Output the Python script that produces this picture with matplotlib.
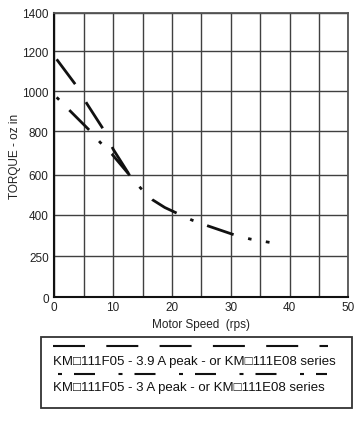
#Torque vs motor speed curves
import numpy as np
import matplotlib
matplotlib.use('Agg')
import matplotlib.pyplot as plt
from matplotlib.lines import Line2D
from matplotlib.patches import Rectangle

plt.rcParams['font.family'] = ['Liberation Sans', 'DejaVu Sans']
plt.rcParams['lines.scale_dashes'] = False

# torque axis is drawn with uneven steps, each tick gets its own grid row
torque_ticks = [0, 250, 400, 600, 800, 1000, 1200, 1400]
tick_rows = [0, 41, 82.8, 122.6, 166, 206, 246, 284.3]   # spacing of the rows on the sheet

speed_ticks = [0, 10, 20, 30, 40, 50]

# 3.9 A peak curve
speed_39 = [0.4, 3.7, 5.5, 8.5, 10.0, 12.8]
torque_39 = [1160, 1030, 940, 803, 718, 598]

# 3 A peak curve
speed_3 = [0.4, 2.55, 5.95, 7.8, 9.8, 12.8, 14.7, 16.7, 18.8, 20.9, 23.4, 26.0, 30.6, 33.3, 36.6]
torque_3 = [970, 906, 806, 749, 695, 598, 532, 474, 435, 406, 380, 360, 327, 312, 300]

labels = ['KM\u25a1111F05 - 3.9 A peak - or KM\u25a1111E08 series',
          'KM\u25a1111F05 - 3 A peak - or KM\u25a1111E08 series']


def fwd(v):
    return np.interp(v, torque_ticks, tick_rows)


def inv(p):
    return np.interp(p, tick_rows, torque_ticks)


W, H = 354, 439
fig = plt.figure(figsize=(W/100, H/100), dpi=100)
ax = fig.add_axes([54.3/W, 1-298.3/H, 294/W, 284.3/H])
ax.set_yscale('function', functions=(fwd, inv))

px = 72/100   # pixels -> points
ax.plot(speed_39, torque_39, color='#111111', lw=2.0,
        dash_capstyle='butt', dashes=(31*px, 21*px))
ax.plot(speed_3, torque_3, color='#111111', lw=2.0, dash_capstyle='butt',
        dashes=(3.5*px, 14.5*px, 28*px, 15*px))

ax.set_xlim(0, 50)
ax.set_ylim(0, 1400)
ax.set_xticks(speed_ticks)
ax.set_xticks(np.arange(5, 50, 10), minor=True)
ax.set_yticks(torque_ticks)
ax.set_yticklabels([str(t) for t in torque_ticks])
ax.yaxis.set_minor_locator(matplotlib.ticker.NullLocator())
ax.grid(which='both', color='#404040', lw=1.0)
ax.tick_params(which='both', length=0, labelsize=8.5, colors='#222222')
ax.tick_params(axis='x', pad=3)
ax.tick_params(axis='y', pad=4)
for s in ['left', 'bottom']:
    ax.spines[s].set_linewidth(1.5)
    ax.spines[s].set_color('#111111')
for s in ['top', 'right']:
    ax.spines[s].set_linewidth(1.3)
    ax.spines[s].set_color('#555555')

ax.set_xlabel('Motor Speed  (rps)', fontsize=8.5, labelpad=3, color='#222222')
ax.set_ylabel('TORQUE - oz in', fontsize=8.5, labelpad=1, color='#222222')

# legend box under the chart
fig.patches.append(Rectangle((41/W, 1-409/H), 311/W, 71.3/H, transform=fig.transFigure,
                             fill=False, lw=1.3, edgecolor='#333333'))
fig.lines.append(Line2D([53.3/W, 328/W], [1-347.3/H]*2, transform=fig.transFigure,
                        color='#111111', lw=1.5, dash_capstyle='butt',
                        dashes=(32*px, 21.3*px)))
fig.lines.append(Line2D([58/W, 327/W], [1-374.5/H]*2, transform=fig.transFigure,
                        color='#111111', lw=1.5, dash_capstyle='butt',
                        dashes=(4*px, 12*px, 21*px, 23.5*px)))

t1 = fig.text(53.3/W, 1-362.3/H, labels[0], fontsize=10, va='center', color='#111111')
t2 = fig.text(53.3/W, 1-388.5/H, labels[1], fontsize=10, va='center', color='#111111')

# no condensed face installed: shrink the legend text to the width it has on the sheet
r = fig.canvas.get_renderer()
scale = 282 / t1.get_window_extent(r).width
t1.set_fontsize(10*scale)
t2.set_fontsize(10*scale)

fig.savefig('out.png', dpi=100)
